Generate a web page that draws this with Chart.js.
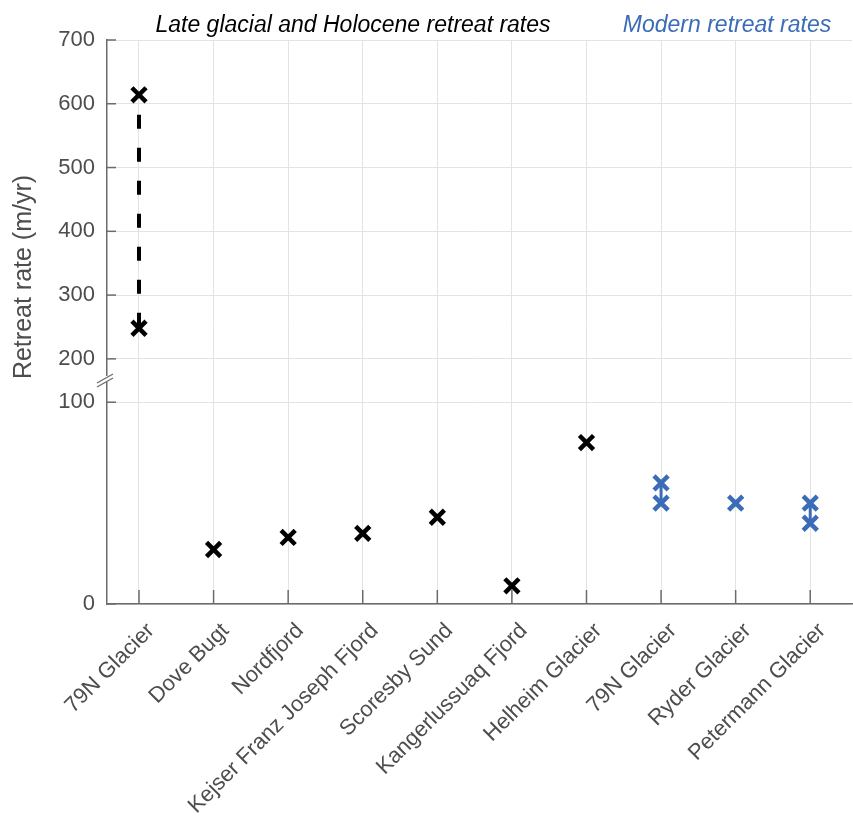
<!DOCTYPE html>
<html>
<head>
<meta charset="utf-8">
<script src="https://cdn.jsdelivr.net/npm/chart.js@4.4.1/dist/chart.umd.min.js"></script>
<style>html,body{margin:0;padding:0;background:#fff}</style>
</head>
<body>
<canvas id="retreatChart" width="853" height="820"></canvas>
<script>
// categories (x positions 1..10)
const glaciers = ['79N Glacier', 'Dove Bugt', 'Nordfjord', 'Kejser Franz Joseph Fjord', 'Scoresby Sund',
    'Kangerlussuaq Fjord', 'Helheim Glacier', '79N Glacier', 'Ryder Glacier', 'Petermann Glacier'];
const topTicks = [200, 300, 400, 500, 600, 700];
const bottomTicks = [0, 100];

// late glacial and holocene (m/yr)
const nw79Range = [614, 248];          // 79N Glacier, upper and lower estimate
const pastSites = [2, 3, 4, 5, 6, 7];
const pastRates = [27, 33, 35, 43, 9, 80];

// modern (m/yr)
const modern79N = [60, 50];
const modernRyder = [50];
const modernPetermann = [50, 40];

const BLACK = '#000000';
const BLUE = '#3b6cb7';
const AXIS = '#6b6b6b';
const GRID = '#e3e3e3';
const TEXT = '#4d4d4d';
const FONT = '"Liberation Sans", Arial, sans-serif';

const pts = (x, ys) => ys.map(y => ({ x: x, y: y }));

const markerStyle = (color) => ({
    borderColor: color,
    backgroundColor: color,
    pointStyle: 'crossRot',
    pointRadius: 10,
    pointBorderWidth: 4.5,
    pointHoverRadius: 10
});

// decorations: headers, y title, axis break, inward tick marks
const decor = {
    id: 'decor',
    beforeDatasetsDraw(chart) {
        const ctx = chart.ctx;
        const area = chart.chartArea;
        ctx.save();
        ctx.strokeStyle = AXIS;
        ctx.lineWidth = 1.5;
        const xs = chart.scales.x;
        xs.ticks.forEach(t => {
            const px = xs.getPixelForValue(t.value);
            ctx.beginPath();
            ctx.moveTo(px, area.bottom);
            ctx.lineTo(px, area.bottom - 14);
            ctx.stroke();
        });
        ['yTop', 'yBot'].forEach(id => {
            const s = chart.scales[id];
            s.ticks.forEach(t => {
                const py = s.getPixelForValue(t.value);
                ctx.beginPath();
                ctx.moveTo(area.left, py);
                ctx.lineTo(area.left + 9, py);
                ctx.stroke();
            });
        });
        ctx.restore();
    },
    afterDraw(chart) {
        const ctx = chart.ctx;
        const area = chart.chartArea;
        ctx.save();
        ctx.font = 'italic 23px ' + FONT;
        ctx.textAlign = 'center';
        ctx.textBaseline = 'alphabetic';
        ctx.fillStyle = BLACK;
        ctx.fillText('Late glacial and Holocene retreat rates', 353, 32);
        ctx.fillStyle = BLUE;
        ctx.fillText('Modern retreat rates', 727, 32);

        ctx.fillStyle = TEXT;
        ctx.font = '25px ' + FONT;
        ctx.translate(24, 277);
        ctx.rotate(-Math.PI / 2);
        ctx.textBaseline = 'middle';
        ctx.fillText('Retreat rate (m/yr)', 0, 0);
        ctx.restore();

        // axis break marks
        const jy = chart.scales.yBot.top;
        ctx.save();
        ctx.strokeStyle = '#ffffff';
        ctx.lineWidth = 4;
        ctx.beginPath();
        ctx.moveTo(area.left, jy - 2);
        ctx.lineTo(area.left, jy + 4);
        ctx.stroke();
        ctx.strokeStyle = AXIS;
        ctx.lineWidth = 1.3;
        [0, 4].forEach(d => {
            ctx.beginPath();
            ctx.moveTo(area.left - 10, jy + 5 + d);
            ctx.lineTo(area.left + 6, jy - 4 + d);
            ctx.stroke();
        });
        ctx.restore();
    }
};

new Chart(document.getElementById('retreatChart'), {
    type: 'scatter',
    data: {
        datasets: [
            { data: pts(1, nw79Range), yAxisID: 'yTop', showLine: true, borderWidth: 4,
              borderDash: [14, 19], borderDashOffset: 13, ...markerStyle(BLACK) },
            { data: pastSites.map((x, i) => ({ x: x, y: pastRates[i] })), yAxisID: 'yBot', ...markerStyle(BLACK) },
            { data: pts(8, modern79N), yAxisID: 'yBot', showLine: true, borderWidth: 3, ...markerStyle(BLUE) },
            { data: pts(9, modernRyder), yAxisID: 'yBot', ...markerStyle(BLUE) },
            { data: pts(10, modernPetermann), yAxisID: 'yBot', showLine: true, borderWidth: 3, ...markerStyle(BLUE) }
        ]
    },
    options: {
        responsive: false,
        animation: false,
        layout: { autoPadding: false, padding: { top: 40, right: 1, left: 0, bottom: 0 } },
        plugins: { legend: { display: false }, tooltip: { enabled: false } },
        scales: {
            x: {
                type: 'linear',
                position: 'bottom',
                min: 0.571,
                max: 10.56,
                afterBuildTicks: s => { s.ticks = glaciers.map((g, i) => ({ value: i + 1 })); },
                afterFit: s => { s.height = 216; s.paddingLeft = 0; s.paddingRight = 0; },
                ticks: {
                    autoSkip: false,
                    maxRotation: 45,
                    minRotation: 45,
                    padding: 14,
                    labelOffset: 12,
                    color: TEXT,
                    font: { family: FONT, size: 22 },
                    callback: v => glaciers[v - 1]
                },
                grid: { color: GRID, drawTicks: false },
                border: { color: AXIS, width: 1.5 }
            },
            yBot: {
                type: 'linear',
                position: 'left',
                stack: 'y',
                stackWeight: 226,
                min: 0,
                max: 112,
                afterBuildTicks: s => { s.ticks = bottomTicks.map(v => ({ value: v })); },
                afterFit: s => { s.width = 107; },
                ticks: { padding: 12, color: TEXT, font: { family: FONT, size: 22 } },
                grid: { color: GRID, drawTicks: false },
                border: { color: AXIS, width: 1.5 }
            },
            yTop: {
                type: 'linear',
                position: 'left',
                stack: 'y',
                stackWeight: 338,
                min: 170,
                max: 700,
                afterBuildTicks: s => { s.ticks = topTicks.map(v => ({ value: v })); },
                afterFit: s => { s.width = 107; },
                ticks: { padding: 12, color: TEXT, font: { family: FONT, size: 22 } },
                grid: { color: GRID, drawTicks: false },
                border: { color: AXIS, width: 1.5 }
            }
        }
    },
    plugins: [decor]
});
</script>
</body>
</html>
